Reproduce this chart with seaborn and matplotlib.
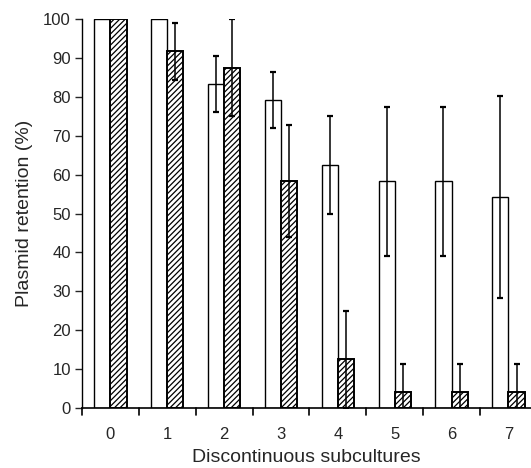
import pandas as pd
import matplotlib
matplotlib.use('Agg')
import matplotlib.pyplot as plt
import seaborn as sns

subcultures = ['0', '1', '2', '3', '4', '5', '6', '7']
strains = ['open', 'hatched']
open_mean = [100, 100, 83.3, 79.2, 62.5, 58.3, 58.3, 54.2]
open_err = [0, 0, 7.2, 7.2, 12.5, 19.1, 19.1, 26.0]
hatched_mean = [100, 91.7, 87.5, 58.3, 12.5, 4.2, 4.2, 4.2]
hatched_err = [0, 7.3, 12.5, 14.4, 12.5, 7.0, 7.0, 7.0]

df = pd.DataFrame({
    'sub': subcultures * 2,
    'strain': [strains[0]] * 8 + [strains[1]] * 8,
    'value': open_mean + hatched_mean,
})

sns.set_style('white')
plt.rcParams['font.family'] = ['Liberation Sans', 'DejaVu Sans']
plt.rcParams['hatch.linewidth'] = 0.9

fig = plt.figure(figsize=(5.31, 4.68), dpi=100)
ax = fig.add_axes([0.1544, 0.1282, 0.8456, 0.8312])

sns.barplot(data=df, x='sub', y='value', hue='strain', order=subcultures,
            hue_order=strains, palette=['white', 'white'], width=0.57,
            edgecolor='black', linewidth=1.0, errorbar=None, legend=False,
            saturation=1, ax=ax)

for bar in ax.containers[1]:
    bar.set_hatch('//////')
    bar.set_linewidth(1.4)

for cont, err in zip(ax.containers, [open_err, hatched_err]):
    xs = [b.get_x() + b.get_width() / 2 for b in cont]
    ys = [b.get_height() for b in cont]
    show = [i for i, e in enumerate(err) if e > 0]
    ax.errorbar([xs[i] for i in show], [ys[i] for i in show],
                yerr=[err[i] for i in show], fmt='none', ecolor='black',
                elinewidth=1.1, capsize=2.3, capthick=1.6, zorder=5)

ax.set_ylim(0, 100)
ax.set_xlim(-0.5, 7.397)
ax.set_yticks(range(0, 101, 10))
ax.set_xticks(range(8))
ax.set_xticklabels(subcultures)
ax.tick_params(axis='x', length=0, labelsize=12, pad=14)
ax.tick_params(axis='y', length=5, width=1, direction='out', left=True,
               labelsize=12, pad=3)
for x in [i + 0.5 for i in range(-1, 8)]:
    ax.plot([x, x], [0, -1.8], color='black', lw=1.2, clip_on=False)

sns.despine(ax=ax)
ax.spines['left'].set_linewidth(1)
ax.spines['bottom'].set_linewidth(1.2)
ax.spines['left'].set_color('black')
ax.spines['bottom'].set_color('black')

ax.set_xlabel('Discontinuous subcultures', fontsize=14, labelpad=5)
ax.set_ylabel('Plasmid retention (%)', fontsize=14, labelpad=7)

fig.savefig('out.png', dpi=100)
